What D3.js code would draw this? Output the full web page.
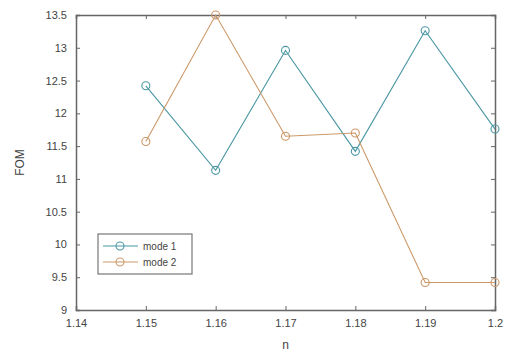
<!DOCTYPE html>
<html>
<head>
<meta charset="utf-8">
<script src="https://cdn.jsdelivr.net/npm/d3@7"></script>
<style>
  body { margin: 0; background: #fff; }
  svg text { font-family: "Liberation Sans", Arial, sans-serif; fill: #444; }
</style>
</head>
<body>
<script>
var nValues = [1.15, 1.16, 1.17, 1.18, 1.19, 1.2];
var mode1 = [12.42, 11.13, 12.96, 11.42, 13.26, 11.76];
var mode2 = [11.57, 13.5, 11.65, 11.7, 9.42, 9.42];
var seriesNames = ["mode 1", "mode 2"];
var xTicks = [1.14, 1.15, 1.16, 1.17, 1.18, 1.19, 1.2];
var yTicks = [9, 9.5, 10, 10.5, 11, 11.5, 12, 12.5, 13, 13.5];

function init(){
    var width = 507, height = 356;
    var left = 76, right = 495, top = 15, bottom = 310;
    var colors = ["#4a97a3", "#cc9868"];

    var svg = d3.select("body").append("svg")
        .attr("width", width)
        .attr("height", height);

    var x = d3.scaleLinear().domain([1.14, 1.2]).range([left, right]);
    var y = d3.scaleLinear().domain([9, 13.5]).range([bottom, top]);

    // ticks on all four sides, pointing inward
    var axisColor = "#666";
    svg.append("g").attr("transform", "translate(0," + bottom + ")")
        .call(d3.axisBottom(x).tickValues(xTicks).tickSize(-4).tickPadding(9).tickFormat(d3.format("")))
        .call(styleAxis);
    svg.append("g").attr("transform", "translate(0," + top + ")")
        .call(d3.axisTop(x).tickValues(xTicks).tickSize(-4).tickFormat(""))
        .call(styleAxis);
    svg.append("g").attr("transform", "translate(" + left + ",0)")
        .call(d3.axisLeft(y).tickValues(yTicks).tickSize(-4).tickPadding(9).tickFormat(d3.format("")))
        .call(styleAxis);
    svg.append("g").attr("transform", "translate(" + right + ",0)")
        .call(d3.axisRight(y).tickValues(yTicks).tickSize(-4).tickFormat(""))
        .call(styleAxis);

    function styleAxis(g){
        g.select(".domain").attr("stroke", axisColor).attr("stroke-width", 1.5);
        g.selectAll(".tick line").attr("stroke", axisColor);
        g.selectAll(".tick text").attr("font-size", 11).attr("fill", "#555");
    }

    // axis labels
    svg.append("text")
        .attr("x", (left + right) / 2)
        .attr("y", 349)
        .attr("text-anchor", "middle")
        .attr("font-size", 12)
        .text("n");
    svg.append("text")
        .attr("transform", "translate(24," + (top + bottom) / 2 + ") rotate(-90)")
        .attr("text-anchor", "middle")
        .attr("font-size", 12)
        .text("FOM");

    var line = d3.line()
        .x(function(d, i) { return x(nValues[i]); })
        .y(function(d) { return y(d); });

    [mode1, mode2].forEach(function(s, k){
        svg.append("path")
            .datum(s)
            .attr("d", line)
            .attr("fill", "none")
            .attr("stroke", colors[k])
            .attr("stroke-width", 1.1);
        svg.selectAll(".pt" + k)
            .data(s)
            .enter()
            .append("circle")
            .attr("cx", function(d, i) { return x(nValues[i]); })
            .attr("cy", function(d) { return y(d); })
            .attr("r", 4)
            .attr("fill", "none")
            .attr("stroke", colors[k])
            .attr("stroke-width", 1.1);
    });

    // legend
    var lg = svg.append("g");
    lg.append("rect")
        .attr("x", 98).attr("y", 234)
        .attr("width", 94).attr("height", 40)
        .attr("fill", "#fff")
        .attr("stroke", "#777")
        .attr("stroke-width", 1.2);
    seriesNames.forEach(function(name, k){
        var ly = 246 + k * 16;
        lg.append("line")
            .attr("x1", 103).attr("x2", 138)
            .attr("y1", ly).attr("y2", ly)
            .attr("stroke", colors[k]).attr("stroke-width", 1.1);
        lg.append("circle")
            .attr("cx", 120).attr("cy", ly).attr("r", 4)
            .attr("fill", "none").attr("stroke", colors[k]).attr("stroke-width", 1.1);
        lg.append("text")
            .attr("x", 143).attr("y", ly + 4)
            .attr("font-size", 10)
            .text(name);
    });
}

window.onload = init;
</script>
</body>
</html>
